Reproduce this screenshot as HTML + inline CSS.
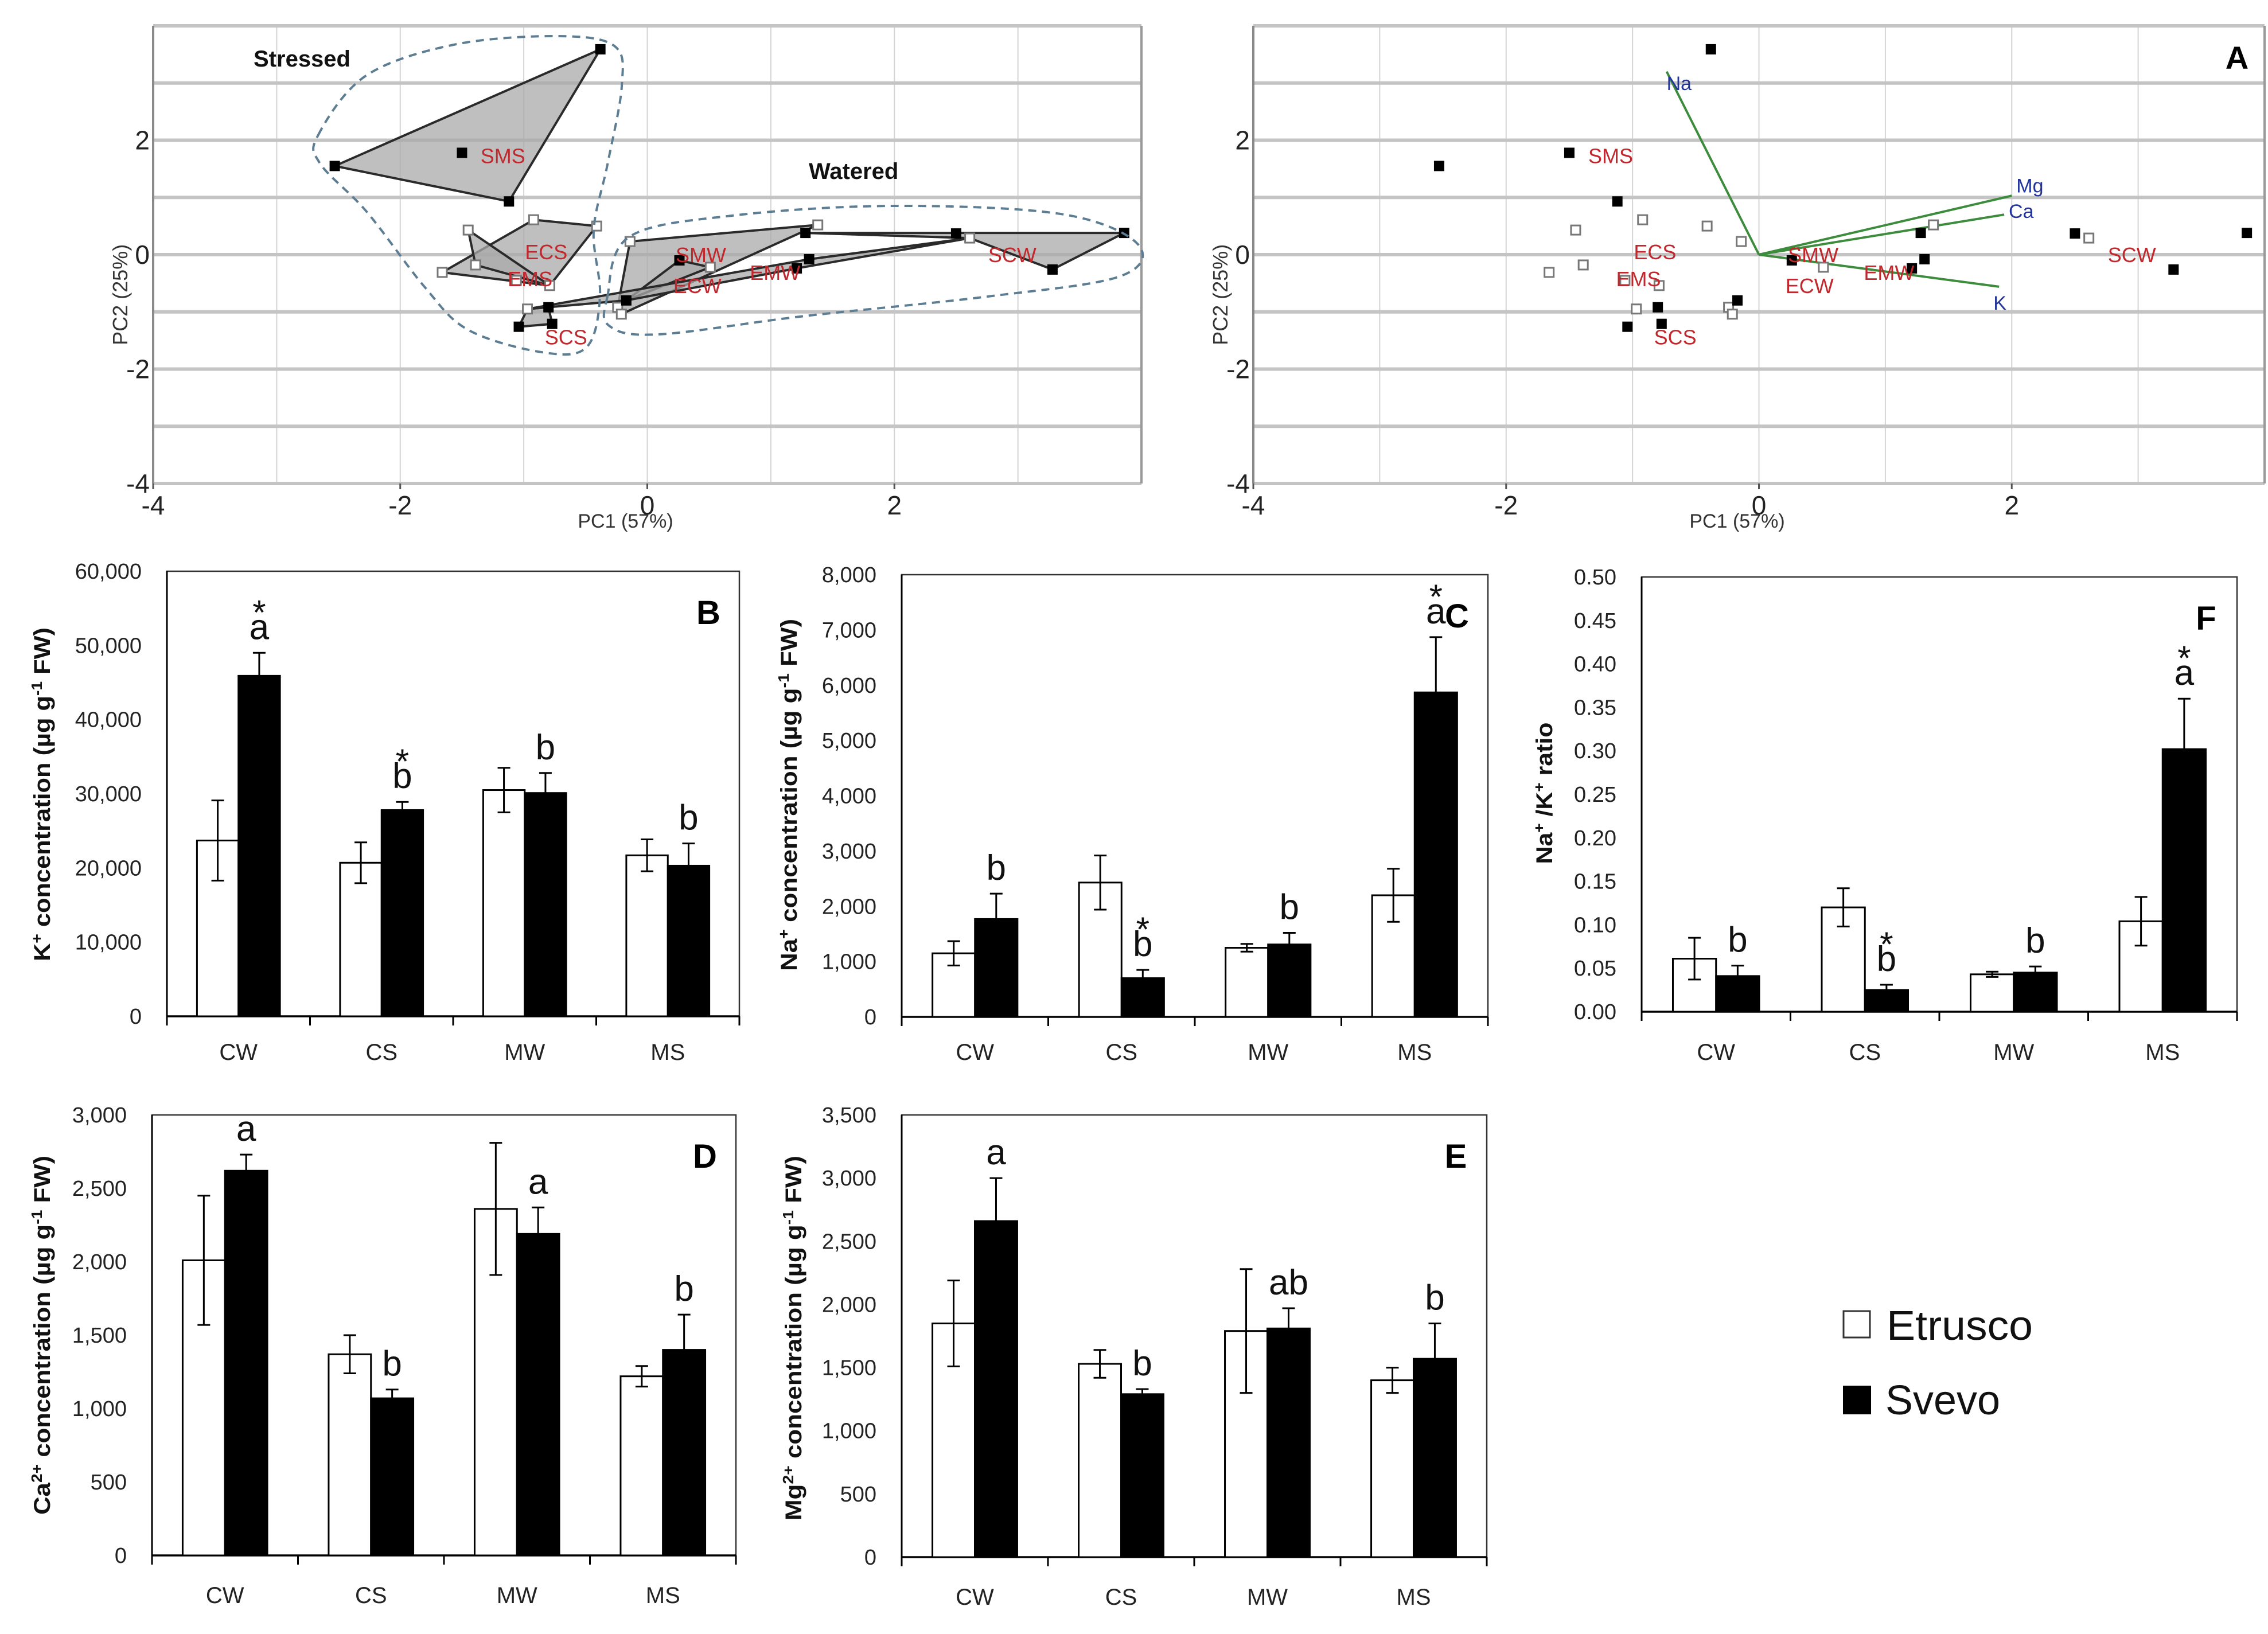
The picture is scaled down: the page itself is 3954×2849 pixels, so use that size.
<!DOCTYPE html>
<html><head><meta charset="utf-8"><title>PCA and ion concentrations</title>
<style>
html,body{margin:0;padding:0;background:#fff;}
svg{display:block;font-family:"Liberation Sans",sans-serif;}
</style></head>
<body>
<svg id="fig" xmlns="http://www.w3.org/2000/svg" width="3954" height="2849" viewBox="0 0 3954 2849">
<rect x="0" y="0" width="3954" height="2849" fill="#fff"/>
</svg>
<script>
// ===== PCA data =====
const svevoX=[-0.38,-2.53,-1.50,-1.12,1.28,2.50,3.86,3.28,1.31,0.26,-0.17,-0.80,-1.04,-0.77,1.21];
const svevoY=[3.59,1.55,1.78,0.93,0.38,0.37,0.38,-0.26,-0.08,-0.10,-0.80,-0.92,-1.26,-1.21,-0.24];
const etruscoX=[-0.92,-1.45,-0.41,-0.14,1.38,2.61,0.51,-1.39,-1.66,-1.06,-0.79,-0.97,-0.24,-0.21];
const etruscoY=[0.61,0.43,0.50,0.23,0.52,0.29,-0.22,-0.18,-0.31,-0.45,-0.54,-0.95,-0.92,-1.04];
const hullNames=["SMS","ECS","EMS","SCS","SMW","ECW","EMW","SCW"];
const hullMembers=[["s0","s1","s3"],["e0","e2","e10","e8"],["e1","e10","e7"],["e11","s11","s13","s12"],["e3","e4","e13","e12"],["s9","e6","s10"],["e11","s8","e5","s14","s10"],["s4","s6","s7","e5"]];
const groupLabels=["SMS","ECS","EMS","SCS","SMW","ECW","EMW","SCW"];
const groupLabelX=[-1.35,-0.99,-1.13,-0.83,0.23,0.21,0.83,2.76];
const groupLabelY=[1.73,0.05,-0.42,-1.44,0.0,-0.54,-0.31,0.0];
const loadNames=["Na","Mg","Ca","K"];
const loadX=[-0.73,2.0,1.94,1.90];
const loadY=[3.2,1.03,0.70,-0.56];
const pcTicks=[-4,-2,0,2];
const pcTickLabels=["-4","-2","0","2"];

// ===== Bar data =====
const cats=["CW","CS","MW","MS"];
const kEtr=[23700,20700,30500,21700], kEtrErr=[5400,2750,3000,2150];
const kSve=[45900,27800,30100,20300], kSveErr=[3100,1100,2700,3000];
const kLetters=["a","b","b","b"], kStars=[1,1,0,0];
const kTicks=[0,10000,20000,30000,40000,50000,60000];
const kTickLabels=["0","10,000","20,000","30,000","40,000","50,000","60,000"];

const naEtr=[1150,2430,1250,2200], naEtrErr=[220,490,70,480];
const naSve=[1770,700,1310,5870], naSveErr=[460,150,210,1000];
const naLetters=["b","b","b","a"], naStars=[0,1,0,1];
const naTicks=[0,1000,2000,3000,4000,5000,6000,7000,8000];
const naTickLabels=["0","1,000","2,000","3,000","4,000","5,000","6,000","7,000","8,000"];

const rEtr=[0.061,0.120,0.043,0.104], rEtrErr=[0.024,0.022,0.003,0.028];
const rSve=[0.041,0.025,0.045,0.302], rSveErr=[0.012,0.006,0.007,0.058];
const rLetters=["b","b","b","a"], rStars=[0,1,0,1];
const rTicks=[0,0.05,0.1,0.15,0.2,0.25,0.3,0.35,0.4,0.45,0.5];
const rTickLabels=["0.00","0.05","0.10","0.15","0.20","0.25","0.30","0.35","0.40","0.45","0.50"];

const caEtr=[2010,1370,2360,1220], caEtrErr=[440,130,450,70];
const caSve=[2620,1070,2190,1400], caSveErr=[110,60,180,240];
const caLetters=["a","b","a","b"], caStars=[0,0,0,0];
const caTicks=[0,500,1000,1500,2000,2500,3000];
const caTickLabels=["0","500","1,000","1,500","2,000","2,500","3,000"];

const mgEtr=[1850,1530,1790,1400], mgEtrErr=[340,110,490,100];
const mgSve=[2660,1290,1810,1570], mgSveErr=[340,40,160,280];
const mgLetters=["a","b","ab","b"], mgStars=[0,0,0,0];
const mgTicks=[0,500,1000,1500,2000,2500,3000,3500];
const mgTickLabels=["0","500","1,000","1,500","2,000","2,500","3,000","3,500"];

const NS="http://www.w3.org/2000/svg";
const svg=document.getElementById('fig');
function mk(tag,parent){const e=document.createElementNS(NS,tag);(parent||svg).appendChild(e);return e;}
function at(e,k,v){e.setAttribute(k,v);return e;}
function line(p,x1,y1,x2,y2,stroke,w){const e=mk('line',p);at(e,'x1',x1);at(e,'y1',y1);at(e,'x2',x2);at(e,'y2',y2);at(e,'stroke',stroke);at(e,'stroke-width',w);return e;}
function text(p,x,y,s,size,anchor,fill,weight){const e=mk('text',p);at(e,'x',x);at(e,'y',y);at(e,'font-size',size);at(e,'text-anchor',anchor||'start');at(e,'fill',fill||'#111');if(weight)at(e,'font-weight',weight);e.textContent=s;return e;}

// ===== PCA panels =====
function pcaPanel(left,right,top,bottom,isBiplot){
  const g=mk('g');
  
  
  const ux=(right-left)/8, uy=(bottom-top)/8;
  const X=v=>left+(v+4)*ux, Y=v=>bottom-(v+4)*uy;
  for(let v=-3;v<=3;v++){
    const l=line(g,X(v),top,X(v),bottom,'#d4d4d4',2);
    
    
  }
  for(let v=-4;v<=4;v++){
    const l=line(g,left,Y(v),right,Y(v),'#c4c4c4',6);
    
    
  }
  const la=line(g,left,top,left,bottom,'#8a8a8a',4);
  
  
  const ra=line(g,right,top,right,bottom,'#9a9a9a',4);
  
  
  pcTicks.forEach((v,i)=>{
    const t=text(g,X(v),897,pcTickLabels[i],46,'middle','#222');
    
    
    const tk=line(g,X(v),bottom,X(v),bottom+10,'#555',3);
    
    
    const ty=text(g,left-6,Y(v)+16,pcTickLabels[i],46,'end','#222');
    
    
  });
  const xt=text(g,X(0)-38,920,'PC1 (57%)',34,'middle','#333');
  
  
  const yx=left-45, yy=Y(-0.7);
  const yt=text(g,yx,yy,'PC2 (25%)',36,'middle','#333');
  at(yt,'transform','rotate(-90 '+yx+' '+yy+')');
  
  
  const pt=(id)=>{const n=+id.slice(1);return id[0]==='s'?[svevoX[n],svevoY[n]]:[etruscoX[n],etruscoY[n]];};
  if(!isBiplot){
    hullMembers.forEach((m,i)=>{
      const p=mk('polygon',g);
      at(p,'points',m.map(id=>{const q=pt(id);return X(q[0]).toFixed(1)+','+Y(q[1]).toFixed(1);}).join(' '));
      at(p,'fill','#a9a9a9');at(p,'fill-opacity','0.75');at(p,'stroke','#2a2a2a');at(p,'stroke-width',4);at(p,'stroke-linejoin','round');
      
      
    });
  } else {
    loadNames.forEach((n,i)=>{
      const l=line(g,X(0),Y(0),X(loadX[i]),Y(loadY[i]),'#3d8b3d',4);
      
      
    });
  }
  etruscoX.forEach((x,i)=>{
    const r=mk('rect',g);at(r,'x',X(x)-8);at(r,'y',Y(etruscoY[i])-8);at(r,'width',16);at(r,'height',16);at(r,'fill','#fff');at(r,'stroke','#777');at(r,'stroke-width',3);
    
    
  });
  svevoX.forEach((x,i)=>{
    const r=mk('rect',g);at(r,'x',X(x)-9);at(r,'y',Y(svevoY[i])-9);at(r,'width',18);at(r,'height',18);at(r,'fill','#000');
    
    
  });
  groupLabels.forEach((s,i)=>{
    const t=text(g,X(groupLabelX[i]),Y(groupLabelY[i])+13,s,36,'start','#c0282d');
    
    
  });
  if(isBiplot){
    const off=[[0,32],[8,-6],[8,6],[-10,40]];
    loadNames.forEach((n,i)=>{
      const t=text(g,X(loadX[i])+off[i][0],Y(loadY[i])+off[i][1],n,34,'start','#23359a');
      
      
    });
    const a=text(g,right-48,top+75,'A',56,'middle','#000','bold');
    
    
  }
  return g;
}
function smoothPath(pts){
  let d='M'+pts[0][0]+','+pts[0][1];const n=pts.length;
  for(let i=0;i<n;i++){
    const p0=pts[(i-1+n)%n],p1=pts[i],p2=pts[(i+1)%n],p3=pts[(i+2)%n];
    const c1=[p1[0]+(p2[0]-p0[0])/6,p1[1]+(p2[1]-p0[1])/6],c2=[p2[0]-(p3[0]-p1[0])/6,p2[1]-(p3[1]-p1[1])/6];
    d+=' C'+c1.join(',')+' '+c2.join(',')+' '+p2.join(',');
  }
  return d+'Z';
}
const g1=pcaPanel(267,1990,45,843,false);
const stressedOutline=[[555,235],[638,132],[791,78],[969,63],[1071,80],[1084,150],[1059,287],[1035,402],[1046,517],[1022,606],[944,614],[816,575],[740,500],[640,370],[558,285]];
const wateredOutline=[[1059,517],[1097,413],[1276,376],[1556,359],[1849,373],[1983,425],[1952,482],[1722,517],[1403,551],[1148,583],[1062,568]];
[[stressedOutline,'stressed-outline'],[wateredOutline,'watered-outline']].forEach(o=>{
  const p=mk('path',g1);at(p,'d',smoothPath(o[0]));at(p,'fill','none');at(p,'stroke','#5d7d92');at(p,'stroke-width',4);at(p,'stroke-dasharray','14 10');
  
  
});
const st=text(g1,442,116,'Stressed',40,'start','#111','bold');


const wt=text(g1,1410,312,'Watered',40,'start','#111','bold');


pcaPanel(2185,3948,45,843,true);

// ===== Bar panels =====
function barPanel(cfg){
  const g=mk('g');
  
  
  const {L,R,T,B,ymax}=cfg;
  const Y=v=>B-v/ymax*(B-T);
  const w=(R-L)/4, bw=0.29*w;
  const fr=mk('rect',g);at(fr,'x',L);at(fr,'y',T);at(fr,'width',R-L);at(fr,'height',B-T);at(fr,'fill','none');at(fr,'stroke','#333');at(fr,'stroke-width',2.5);
  
  
  const ax=line(g,L,B,R,B,'#000',3.5);
  
  
  const ay=line(g,L,T,L,B,'#000',3);
  
  
  for(let i=0;i<=4;i++){
    const t=line(g,L+i*w,B,L+i*w,B+16,'#000',3);
    
    
  }
  cfg.ticks.forEach((v,i)=>{
    const t=text(g,L-44,Y(v)+13,cfg.tickLabels[i],38,'end','#222');
    
    
  });
  cats.forEach((c,i)=>{
    const cx=L+w*(i+0.5);
    const t=text(g,cx,cfg.catY+14,c,40,'middle','#222');
    
    
    const series=[[cfg.etr,cfg.etrErr,'#fff',cx-bw,'etrusco'],[cfg.sve,cfg.sveErr,'#000',cx,'svevo']];
    series.forEach(s=>{
      const v=s[0][i],e=s[1][i];
      const r=mk('rect',g);at(r,'x',s[3]);at(r,'y',Y(v));at(r,'width',bw);at(r,'height',B-Y(v));at(r,'fill',s[2]);at(r,'stroke','#000');at(r,'stroke-width',3);
      
      
      const ex=s[3]+bw/2;
      const eb=mk('path',g);
      at(eb,'d','M'+ex+','+Y(v-e)+'V'+Y(v+e)+'M'+(ex-11)+','+Y(v+e)+'H'+(ex+11)+'M'+(ex-11)+','+Y(v-e)+'H'+(ex+11));
      at(eb,'stroke','#000');at(eb,'stroke-width',3);at(eb,'fill','none');
      
      
    });
    const lx=cx+bw/2, ly=Y(cfg.sve[i]+cfg.sveErr[i])-24;
    const lt=text(g,lx,ly,cfg.letters[i],62,'middle','#111');
    
    
    if(cfg.stars[i]){
      const sa=text(g,lx,ly-26,'*',60,'middle','#111');
      
      
    }
  });
  const pl=text(g,R-54,T+92,cfg.id.toUpperCase(),58,'middle','#000','bold');
  
  
  const yt=mk('text',g);
  at(yt,'x',0);at(yt,'y',0);at(yt,'font-size',40);at(yt,'font-weight','bold');at(yt,'text-anchor','middle');at(yt,'fill','#111');
  at(yt,'textLength',cfg.titleLen);at(yt,'lengthAdjust','spacingAndGlyphs');
  at(yt,'transform','translate('+(cfg.titleX+14)+','+cfg.titleY+') rotate(-90)');
  yt.innerHTML=cfg.title;
  
  
}
const sup=s=>'<tspan dy="-14" font-size="26">'+s+'</tspan><tspan dy="14"> </tspan>';
barPanel({id:'b',L:291,R:1289,T:996,B:1772,ymax:60000,ticks:kTicks,tickLabels:kTickLabels,etr:kEtr,etrErr:kEtrErr,sve:kSve,sveErr:kSveErr,letters:kLetters,stars:kStars,catY:1834,titleX:73,titleY:1385,titleLen:582,title:'K'+sup('+')+'concentration (µg g'+sup('-1')+'FW)'});
barPanel({id:'c',L:1572,R:2594,T:1002,B:1773,ymax:8000,ticks:naTicks,tickLabels:naTickLabels,etr:naEtr,etrErr:naEtrErr,sve:naSve,sveErr:naSveErr,letters:naLetters,stars:naStars,catY:1834,titleX:1375,titleY:1386,titleLen:614,title:'Na'+sup('+')+'concentration (µg g'+sup('-1')+'FW)'});
barPanel({id:'f',L:2862,R:3900,T:1006,B:1764,ymax:0.5,ticks:rTicks,tickLabels:rTickLabels,etr:rEtr,etrErr:rEtrErr,sve:rSve,sveErr:rSveErr,letters:rLetters,stars:rStars,catY:1834,titleX:2692,titleY:1383,titleLen:247,title:'Na'+sup('+')+'/K'+sup('+')+'ratio'});
barPanel({id:'d',L:265,R:1283,T:1944,B:2712,ymax:3000,ticks:caTicks,tickLabels:caTickLabels,etr:caEtr,etrErr:caEtrErr,sve:caSve,sveErr:caSveErr,letters:caLetters,stars:caStars,catY:2781,titleX:73,titleY:2328,titleLen:626,title:'Ca'+sup('2+')+'concentration (µg g'+sup('-1')+'FW)'});
barPanel({id:'e',L:1572,R:2592,T:1944,B:2715,ymax:3500,ticks:mgTicks,tickLabels:mgTickLabels,etr:mgEtr,etrErr:mgEtrErr,sve:mgSve,sveErr:mgSveErr,letters:mgLetters,stars:mgStars,catY:2784,titleX:1383,titleY:2333,titleLen:636,title:'Mg'+sup('2+')+'concentration (µg g'+sup('-1')+'FW)'});

// ===== Legend =====
const lg=mk('g');


const lb1=mk('rect',lg);at(lb1,'x',3214);at(lb1,'y',2286);at(lb1,'width',46);at(lb1,'height',46);at(lb1,'fill','#fff');at(lb1,'stroke','#333');at(lb1,'stroke-width',3);


const lt1=text(lg,3289,2336,'Etrusco',72,'start','#111');
at(lt1,'textLength',255);at(lt1,'lengthAdjust','spacingAndGlyphs');


const lb2=mk('rect',lg);at(lb2,'x',3213);at(lb2,'y',2416);at(lb2,'width',49);at(lb2,'height',50);at(lb2,'fill','#000');


const lt2=text(lg,3287,2466,'Svevo',72,'start','#111');
at(lt2,'textLength',200);at(lt2,'lengthAdjust','spacingAndGlyphs');


</script>
</body></html>
